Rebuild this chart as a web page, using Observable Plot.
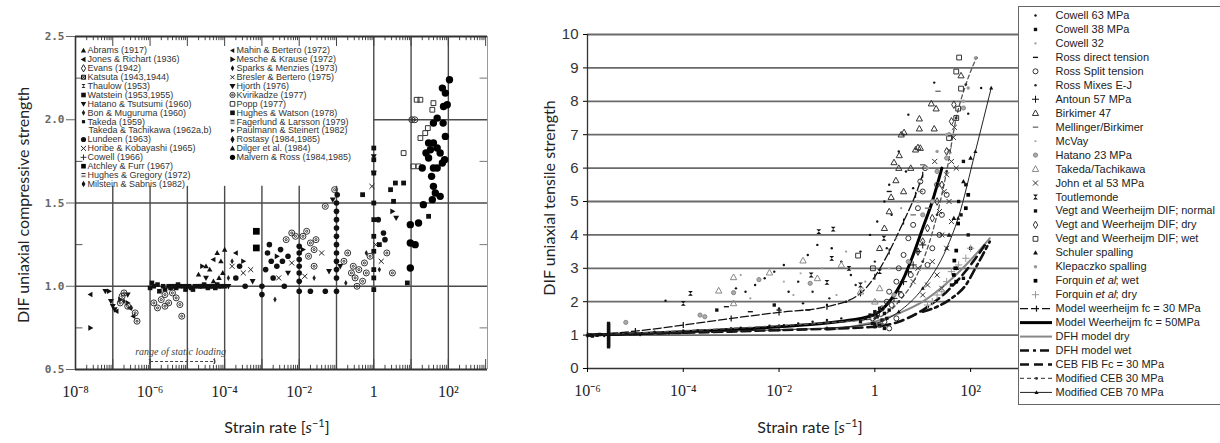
<!DOCTYPE html>
<html><head><meta charset="utf-8">
<script src="https://cdn.jsdelivr.net/npm/d3@7"></script>
<script src="https://cdn.jsdelivr.net/npm/@observablehq/plot@0.6"></script>
<style>
body{margin:0;background:#fff}
#wrap{position:relative;width:1220px;height:443px;overflow:hidden;background:#fff;font-family:Lato,"Open Sans",sans-serif}
#wrap svg{position:absolute}
.ylab{position:absolute;transform:translate(-50%,-50%) rotate(-90deg);white-space:nowrap;font-size:16px;color:#222}
.xlab{position:absolute;transform:translate(-50%,-50%);white-space:nowrap;font-size:16px;color:#222}
.xlab sup{font-size:11px;vertical-align:6px}
</style></head><body><div id="wrap"></div><script>
// ---------------- DATA (x = log10 strain rate, y = DIF) ----------------
// Left panel: compressive
const compTickValues = [1e-8, 1e-6, 1e-4, 1e-2, 1, 1e2];
const compTickLabels = ["10⁻⁸", "10⁻⁶", "10⁻⁴", "10⁻²", "1", "10²"];
const compYTicks = [0.5, 1.0, 1.5, 2.0, 2.5];
const compGridPartial = [1e-7, 1e-6, 1e-5, 1e-4, 1e-3, 1e-2, 1e-1];
const compGridFull = [1, 10, 100];

const compJones = [[-7.6,0.95],[-6.9,0.85],[-6.55,0.87],[-6.45,0.82],[-4.3,1.16],[-3.7,1.2]];
const compMesche = [[-7.6,0.75],[-7.1,0.97],[-6.8,0.92],[-6.6,0.9],[-4.6,1.12],[-3.5,1.15],[-2.6,1.18],[-1.9,1.22],[0.5,1.45]];
const compHjorth = [[-7.2,0.97],[-7.0,0.88],[-6.95,0.86],[-7.05,0.91],[-6.6,0.95],[-4.5,1.05],[-3.9,1.0],[-3.25,1.03],[-2.3,1.08],[-1.2,1.09],[-0.9,1.12],[0,1.78],[0.6,1.41],[0,1.68],[-1.1,1.52]];
const compKvirikadze = [[-6.8,0.9],[-6.75,0.94],[-6.6,0.88],[-6.4,0.84],[-6.35,0.79],[-6.7,0.96],[-5.9,0.9],[-5.8,0.87],[-5.7,0.92],[-5.6,0.88],[-5.5,0.9],[-5.3,0.93],[-5.2,0.89],[-5.15,0.82],[-5.6,0.95],[-5.4,0.96],[-2.35,1.28],[-2.2,1.32],[-2.1,1.3],[-1.9,1.3],[-1.8,1.33],[-1.7,1.26],[-1.6,1.22],[-1.75,1.18],[-1.6,1.12],[-1.55,1.28],[-1.05,1.58],[-1.3,1.48],[-0.8,1.15],[-0.7,1.2],[-0.6,1.08],[-0.5,1.05],[-0.4,1.1],[-0.3,1.03],[-0.2,1.08],[-0.55,1.12],[-0.45,1.0],[-0.25,1.14],[-0.1,1.18],[0.35,1.2],[0.5,1.08],[1.02,2.0],[1.1,2.0]];
const compLundeen = [[-3.0,1.0],[-3.0,0.95],[-2.9,1.1],[-2.85,1.2],[-2.8,1.25],[-2.75,1.15],[-2.7,1.05],[-2.6,1.12],[-2.5,1.22],[-2.45,1.15],[-2.4,1.0],[-2.3,1.18],[-2.0,0.97],[-2.0,1.03],[-2.0,1.08],[-2.0,1.12],[-2.0,1.16],[-2.0,1.2],[-2.0,1.24],[-1.7,0.97],[-1.3,0.97],[-1.0,0.97],[-1.0,1.05],[-1.0,1.1],[-1.0,1.15],[-1.0,1.2],[-1.0,1.25],[-1.0,1.3],[-1.0,1.35],[-1.0,1.4],[-1.0,1.45],[-1.0,1.5],[-0.98,1.55],[0.26,1.32],[0.3,1.28],[0.12,1.4],[-3.7,1.05],[-3.6,1.12],[-3.45,1.0]];
const compMalvernRoss = [[2.03,2.24],[1.84,2.19],[1.92,2.16],[1.97,2.09],[1.87,2.08],[1.7,2.01],[1.86,1.98],[1.6,1.98],[1.47,1.86],[1.6,1.86],[1.52,1.82],[1.7,1.83],[1.78,1.8],[1.47,1.77],[1.84,1.74],[1.7,1.71],[1.6,1.71],[1.3,1.71],[1.6,1.6],[1.65,1.56],[1.78,1.54],[1.57,1.52],[1.33,1.49],[1.2,1.38],[0.98,1.37],[0.98,1.26],[1.11,1.25],[0.98,1.11],[1.55,1.66],[1.4,1.8],[1.92,1.9],[1.9,1.76]];
const compPopp = [[1.15,2.12],[1.25,2.12],[1.6,2.1],[1.57,2.06],[1.38,1.92],[1.25,1.89],[0.8,1.8],[1.06,1.72],[1.45,1.95],[1.2,1.72]];
const compHughesWatson = [[0,1.83],[0,1.76],[0,1.68],[0,1.5],[0,1.4],[0,1.3],[0,1.21],[0,1.1],[0,1.05],[0,0.98],[0.58,1.62],[0.45,1.58],[0.53,1.51],[0.9,1.02],[0.8,1.62],[-0.3,1.55],[1.47,1.42],[0.15,1.25]];
const compAtchley = [[-3.15,1.33],[-3.15,1.23]];
const compWatstein = [[-6,0.99],[-5.9,1.0],[-5.8,1.01],[-5.6,0.98],[-5.5,1.0],[-5.4,1.0],[-5.3,0.99],[-5.2,1.0],[-5.1,1.0],[-5.0,1.0],[-4.9,0.99],[-4.8,1.0],[-4.7,1.0],[-4.6,1.0],[-4.5,1.0],[-4.4,1.0],[-4.3,1.0],[-4.2,1.01],[-4.1,1.0],[-4.0,1.0],[-5.95,1.02],[-5.75,0.97],[-5.65,1.0],[-5.45,0.99],[-5.35,1.0],[-5.25,1.01],[-5.05,0.98],[-4.95,1.0],[-4.85,0.98],[-4.65,1.0],[-4.55,1.01],[-4.45,0.99],[-4.35,1.0],[-4.25,0.99],[-4.15,1.0]];
const compDilger = [[-4.7,1.07],[-4.5,1.12],[-4.4,1.1],[-4.2,1.2],[-4.1,1.15],[-4.05,1.08],[-4.0,1.22],[-4.15,1.05],[-4.3,1.03]];
const compHoribe = [[-3.8,1.12],[-3.5,1.08],[-3.3,1.1],[-2.55,1.05],[-2.2,1.14],[-1.4,1.2],[-1.85,1.06],[0.05,1.25],[-0.05,1.6],[0.2,1.15]];
const compBon = [[-6.7,0.91],[-6.5,0.87],[-3.9,1.05],[-3.8,1.15],[-2.65,0.92],[-1.6,1.05],[-0.75,1.02],[-0.2,1.2],[0.15,1.1]];
const compStaticRange = [[-6, -4.27]];

const compLegendCol1 = ["Abrams (1917)","Jones & Richart (1936)","Evans (1942)","Katsuta (1943,1944)","Thaulow (1953)","Watstein (1953,1955)","Hatano & Tsutsumi (1960)","Bon & Muguruma (1960)","Takeda (1959)","Takeda & Tachikawa (1962a,b)","Lundeen (1963)","Horibe & Kobayashi (1965)","Cowell (1966)","Atchley & Furr (1967)","Hughes & Gregory (1972)","Milstein & Sabnis (1982)"];
const compLegendCol1Keys = ["abrams","jones","evans","katsuta","thaulow","watstein","hatano","bon","takeda",null,"lundeen","horibe","cowell","atchley","hughesGregory","milstein"];
const compLegendCol2 = ["Mahin & Bertero (1972)","Mesche & Krause (1972)","Sparks & Menzies (1973)","Bresler & Bertero (1975)","Hjorth (1976)","Kvirikadze (1977)","Popp (1977)","Hughes & Watson (1978)","Fagerlund & Larsson (1979)","Paulmann & Steinert (1982)","Rostasy (1984,1985)","Dilger et al. (1984)","Malvern & Ross (1984,1985)"];
const compLegendCol2Keys = ["mahin","mesche","sparks","bresler","hjorth","kvirikadze","popp","hughesWatson","fagerlund","paulmann","rostasy","dilger","malvern"];

// Right panel: tensile
const tensileTickValues = [1e-6, 1e-4, 1e-2, 1, 1e2];
const tensileTickLabels = ["10⁻⁶", "10⁻⁴", "10⁻²", "1", "10²"];
const tensileYTicks = [0,1,2,3,4,5,6,7,8,9,10];
const tensileGrid = [1,2,3,4,5,6,7,8,9,10];

const cowell63 = [[-5.9,1.0],[-5.8,0.98],[-5.7,1.02],[-5.65,0.97],[-5.2,1.05],[-4.9,1.0],[-4.6,1.1],[-4.3,1.05],[-4.0,1.12],[-3.7,1.15],[-3.4,1.1],[-3.1,1.18],[-2.8,1.22],[-2.5,1.2],[-2.2,1.28],[-1.9,1.3],[-1.6,1.35],[-1.3,1.4],[-1.0,1.45],[-0.7,1.5],[-4.37,2.03],[-2.9,2.4],[-2.7,2.3],[-2.5,2.5],[-2.3,2.7],[-2.1,2.9],[-1.9,3.1],[-1.8,2.3],[-1.6,2.6],[-1.4,3.4],[-1.2,3.7],[-0.9,3.6],[-0.7,3.2],[-0.5,2.8],[-0.3,3.5],[-0.1,4.0],[0.05,4.4],[0.2,5.0],[0.3,5.5],[0.5,6.5],[0.6,7.0],[0.7,7.6],[1.24,8.56],[2.22,8.4],[1.95,7.63],[-0.6,2.0],[-1.0,1.9],[-2.0,1.8],[-1.5,1.95],[0.65,5.9],[0.8,5.4],[0.35,4.6]];
const cowell38 = [[-5.56,0.65],[-5.56,0.7],[-5.56,0.75],[-5.56,0.8],[-5.56,0.85],[-5.56,0.9],[-5.56,0.95],[-5.56,1.0],[-5.56,1.05],[-5.56,1.1],[-5.56,1.15],[-5.56,1.2],[-5.56,1.25],[-5.56,1.3],[-5.56,1.35],[-5.95,1.0],[-5.9,0.97],[-5.8,1.0],[-5.75,1.02],[-0.2,1.5],[-0.1,1.6],[0,1.7],[0.05,1.55],[0.1,1.8],[0.15,1.45],[0.2,1.65],[-0.05,1.35],[0.1,1.3],[0.25,1.5],[0.3,1.75],[-0.3,1.4],[0.0,1.25],[0.2,1.2],[-2.1,1.9],[-3.3,1.75]];
const cowell32 = [[-2.8,2.8],[-2.6,2.1],[-1.7,2.2],[-1.1,3.0],[-0.8,2.2],[-0.6,3.5],[-0.2,2.6],[0.45,3.9],[0.55,4.8]];
const rossDirect = [[-3.1,1.85],[-2.6,1.7],[-2.0,1.75],[0.3,5.3],[-1.4,1.75]];
const rossSplit = [[0.05,1.6],[0.15,1.8],[0.25,2.0],[0.3,2.3],[0.45,2.6],[0.5,3.0],[0.6,3.4],[0.7,3.9],[0.8,4.3],[0.9,4.8],[1.0,5.3],[0.95,5.6],[1.05,6.0],[0.2,1.4],[0.1,1.3],[0.35,1.9],[-0.05,1.5],[0.55,2.2],[0.75,2.8],[1.1,3.1],[1.2,3.6],[1.35,4.0],[1.4,4.6],[1.5,5.2],[1.3,5.5],[0.3,1.2],[0.45,1.5]];
const rossMixes = [[-1.3,2.3],[-0.95,2.1],[-0.4,2.5],[0.0,3.2],[0.25,3.6]];
const antoun = [[0.6,2.6],[0.7,2.9],[0.8,3.1],[0.5,2.3],[0.9,3.5],[0.4,2.1],[1.0,3.7]];
const birkimer = [[0.34,5.13],[0.4,6.17],[0.51,6.38],[0.5,6.0],[0.44,5.63],[0.61,7.07],[0.55,7.0],[0.85,6.55],[0.9,6.62],[0.95,6.6],[0.93,7.48],[0.93,7.18],[1.24,7.18],[1.18,7.93],[1.28,7.78],[1.8,8.77],[0.3,4.7],[0.2,4.2],[0.6,5.3],[0.75,6.0],[0.1,3.6]];
const mellinger = [[1.32,8.3],[0.95,5.3],[1.1,4.8],[1.0,6.1],[0.8,4.6]];
const mcvay = [[-1.9,2.6],[-1.55,2.85],[-0.25,2.4],[0.3,3.0]];
const hatano = [[-5.2,1.38],[-3.65,1.6],[-3.55,1.55],[-2.95,2.27],[-2.42,2.66],[-1.35,2.55],[0.4,2.2],[0.7,3.2],[1.0,4.6],[1.2,5.0],[1.3,5.9],[1.5,6.3],[1.55,7.0],[1.85,7.8]];
const takeda = [[-3.26,2.33],[-2.95,2.73],[-2.95,1.95],[-2.2,2.87],[-1.5,3.23],[-1.2,2.7],[-0.7,3.1],[-0.3,2.3],[0.0,2.0],[0.1,2.4]];
const john = [[1.64,6.92],[1.55,6.53],[1.6,6.2],[1.5,5.8],[1.45,5.3],[1.55,5.0],[1.35,4.7],[1.6,4.4],[1.4,4.0],[1.5,3.6],[1.2,3.2],[1.3,2.8],[1.1,2.5],[1.66,7.22],[1.7,6.0],[0.9,3.0],[1.0,2.2],[1.4,2.4],[0.8,2.6],[1.25,6.2]];
const toutlemonde = [[-4.0,1.95],[-3.85,2.25],[-1.17,4.1],[-0.87,4.17],[-1.33,2.8],[-0.9,3.3],[-1.0,2.58],[-0.54,3.0],[0.19,3.9],[-0.3,2.5],[0.1,2.9]];
const vegtNormal = [[1.85,6.2],[1.9,5.5],[1.75,5.0],[1.8,4.6],[1.95,4.0],[1.72,3.0],[1.85,2.7],[2.0,3.6],[1.6,2.5]];
const vegtDry = [[1.0,3.8],[1.1,4.2],[1.2,4.5],[0.9,3.5],[1.3,5.0],[1.4,5.5],[1.5,6.5],[1.6,7.4],[1.65,7.9]];
const vegtWet = [[1.76,9.31],[1.7,8.89],[1.8,8.38],[1.74,7.78],[1.7,7.5],[-0.35,3.38],[-0.04,3.0],[1.55,6.9]];
const schuler = [[1.55,4.0],[1.65,4.5],[1.85,5.6],[2.0,6.3]];
const klepaczko = [[2.1,9.3],[1.95,8.4],[1.85,8.0],[1.5,7.0],[1.3,6.5],[1.1,6.0],[0.9,5.0]];
const forquinWet = [[1.74,4.34],[1.7,3.53],[1.66,3.23],[1.68,3.0],[1.65,2.8],[1.7,2.6],[1.95,5.2],[1.9,4.8]];
const forquinDry = [[1.4,2.3],[1.5,2.6],[1.6,2.9],[1.3,2.2],[1.75,3.1],[1.9,3.3],[2.0,3.6],[1.2,2.0],[1.1,1.9]];

const modelW30 = [[-6,1.0],[-5,1.12],[-4,1.3],[-3,1.5],[-2,1.68],[-1,1.85],[-0.3,2.25],[0,2.75],[0.3,3.5],[0.6,4.4],[0.85,5.2],[1.0,5.8]];
const modelW50 = [[-6,1.0],[-5,1.04],[-4,1.1],[-3,1.17],[-2,1.25],[-1,1.36],[-0.5,1.45],[0,1.62],[0.3,2.0],[0.6,2.7],[0.8,3.4],[1.0,4.2],[1.2,5.0],[1.4,6.0]];
const dfhDry = [[-1,1.15],[-0.5,1.25],[0,1.4],[0.5,1.65],[1.0,2.0],[1.5,2.55],[2.0,3.25],[2.4,3.9]];
const dfhWet = [[1.0,1.7],[1.3,1.85],[1.6,2.1],[1.9,2.5],[2.1,3.0],[2.4,3.8]];
const cebFib = [[-6,1.0],[-4,1.07],[-2,1.15],[0,1.25],[0.5,1.4],[1.0,1.75],[1.5,2.3],[2.0,3.1],[2.3,3.7]];
const modCeb30 = [[-6,1.0],[-5,1.06],[-4,1.13],[-3,1.2],[-2,1.28],[-1,1.37],[0,1.5],[0.5,2.0],[1.0,3.2],[1.3,4.6],[1.5,5.9],[1.7,7.5],[1.9,8.5],[2.12,9.3]];
const modCeb70 = [[-6,1.0],[-5,1.04],[-4,1.08],[-3,1.12],[-2,1.16],[-1,1.21],[0,1.35],[0.5,1.7],[1.0,2.4],[1.5,3.6],[1.74,4.5],[2.1,6.5],[2.43,8.4]];

// ---------------- SYMBOLS ----------------
function mk(fn){return {draw(ctx,size){fn(ctx, Math.sqrt(size/Math.PI));}};}
const SYM = {
  triUp: mk((c,r)=>{r*=1.25;c.moveTo(0,-r);c.lineTo(r*0.95,r*0.7);c.lineTo(-r*0.95,r*0.7);c.closePath();}),
  triDown: mk((c,r)=>{r*=1.25;c.moveTo(0,r);c.lineTo(r*0.95,-r*0.7);c.lineTo(-r*0.95,-r*0.7);c.closePath();}),
  triLeft: mk((c,r)=>{r*=1.25;c.moveTo(-r,0);c.lineTo(r*0.7,-r*0.95);c.lineTo(r*0.7,r*0.95);c.closePath();}),
  triRight: mk((c,r)=>{r*=1.25;c.moveTo(r,0);c.lineTo(-r*0.7,-r*0.95);c.lineTo(-r*0.7,r*0.95);c.closePath();}),
  hourglass: mk((c,r)=>{c.moveTo(-r,-r);c.lineTo(r,-r);c.lineTo(-r,r);c.lineTo(r,r);c.closePath();}),
  dash: mk((c,r)=>{c.moveTo(-r*1.5,-r*0.4);c.lineTo(r*1.5,-r*0.4);c.lineTo(r*1.5,r*0.4);c.lineTo(-r*1.5,r*0.4);c.closePath();}),
  vbar: mk((c,r)=>{c.moveTo(0,-r);c.lineTo(0,r);}),
  xbox: mk((c,r)=>{c.rect(-r,-r,2*r,2*r);c.moveTo(-r,-r);c.lineTo(r,r);c.moveTo(r,-r);c.lineTo(-r,r);}),
  circleDot: mk((c,r)=>{c.moveTo(r,0);c.arc(0,0,r,0,2*Math.PI);c.moveTo(r*0.35,0);c.arc(0,0,r*0.35,0,2*Math.PI);}),
  sqStripe: mk((c,r)=>{c.rect(-r,-r,2*r,2*r);c.moveTo(-r,-r*0.2);c.lineTo(r,-r*0.2);c.moveTo(-r,r*0.3);c.lineTo(r,r*0.3);})
};

const compStyles = {
  abrams:{symbol:SYM.triUp,fill:"#111",stroke:"none",r:2.2},
  jones:{symbol:SYM.triLeft,fill:"#111",stroke:"none",r:2.3},
  evans:{symbol:"diamond",fill:"none",stroke:"#222",r:2.2},
  katsuta:{symbol:SYM.xbox,fill:"none",stroke:"#111",r:2},
  thaulow:{symbol:SYM.hourglass,fill:"#222",stroke:"none",r:2},
  watstein:{symbol:"square",fill:"#111",stroke:"none",r:2.6},
  hatano:{symbol:SYM.triDown,fill:"#111",stroke:"none",r:2.3},
  bon:{symbol:"diamond",fill:"#222",stroke:"none",r:1.8},
  takeda:{symbol:"square",fill:"#111",stroke:"none",r:1.8},
  lundeen:{symbol:"circle",fill:"#111",stroke:"none",r:2.8},
  horibe:{symbol:"times",fill:"none",stroke:"#222",r:2.4},
  cowell:{symbol:"plus",fill:"none",stroke:"#333",r:2},
  atchley:{symbol:"square",fill:"#000",stroke:"none",r:3.8},
  hughesGregory:{symbol:SYM.sqStripe,fill:"#333",stroke:"#fff",r:2.6},
  milstein:{symbol:"diamond",fill:"#111",stroke:"none",r:2},
  mahin:{symbol:SYM.triLeft,fill:"#111",stroke:"none",r:2},
  mesche:{symbol:SYM.triRight,fill:"#111",stroke:"none",r:2.4},
  sparks:{symbol:"diamond",fill:"#111",stroke:"none",r:1.8},
  bresler:{symbol:"times",fill:"none",stroke:"#222",r:2},
  hjorth:{symbol:SYM.triDown,fill:"#111",stroke:"none",r:2.5},
  kvirikadze:{symbol:SYM.circleDot,fill:"none",stroke:"#333",r:3},
  popp:{symbol:"square",fill:"none",stroke:"#333",r:2.7},
  hughesWatson:{symbol:"square",fill:"#111",stroke:"none",r:2.7},
  fagerlund:{symbol:SYM.sqStripe,fill:"#222",stroke:"#ddd",r:2.3},
  paulmann:{symbol:SYM.triRight,fill:"#222",stroke:"none",r:1.8},
  rostasy:{symbol:"diamond",fill:"#111",stroke:"none",r:2.2},
  dilger:{symbol:SYM.triUp,fill:"#111",stroke:"none",r:2.3},
  malvern:{symbol:"circle",fill:"#000",stroke:"none",r:3.7}
};
const compSeries = [
  ["watstein", compWatstein],["jones", compJones],["mesche", compMesche],["hjorth", compHjorth],
  ["kvirikadze", compKvirikadze],["bon", compBon],["dilger", compDilger],["horibe", compHoribe],
  ["lundeen", compLundeen],["hughesWatson", compHughesWatson],["atchley", compAtchley],
  ["popp", compPopp],["malvern", compMalvernRoss]
];

const tensileSeries = [
  {label:"Cowell 63 MPa", data:cowell63, symbol:"circle", fill:"#111", stroke:"none", r:1.2},
  {label:"Cowell 38 MPa", data:cowell38, symbol:"square", fill:"#111", stroke:"none", r:1.9},
  {label:"Cowell 32", data:cowell32, symbol:"circle", fill:"#999", stroke:"none", r:1.1},
  {label:"Ross direct tension", data:rossDirect, symbol:SYM.dash, fill:"#111", stroke:"none", r:1.7},
  {label:"Ross Split tension", data:rossSplit, symbol:"circle", fill:"none", stroke:"#333", r:2.5},
  {label:"Ross Mixes E-J", data:rossMixes, symbol:"circle", fill:"#222", stroke:"none", r:1.2},
  {label:"Antoun 57 MPa", data:antoun, symbol:"plus", fill:"none", stroke:"#111", r:2.4},
  {label:"Birkimer 47", data:birkimer, symbol:SYM.triUp, fill:"none", stroke:"#333", r:2.6},
  {label:"Mellinger/Birkimer", data:mellinger, symbol:SYM.dash, fill:"#777", stroke:"none", r:1.8},
  {label:"McVay", data:mcvay, symbol:"circle", fill:"#aaa", stroke:"none", r:1.1},
  {label:"Hatano 23 MPa", data:hatano, symbol:"circle", fill:"#aaa", stroke:"#888", r:2.1},
  {label:"Takeda/Tachikawa", data:takeda, symbol:SYM.triUp, fill:"none", stroke:"#888", r:2.7},
  {label:"John et al 53 MPa", data:john, symbol:"times", fill:"none", stroke:"#333", r:2.4},
  {label:"Toutlemonde", data:toutlemonde, symbol:SYM.hourglass, fill:"#111", stroke:"none", r:2.4},
  {label:"Vegt and Weerheijm DIF; normal", data:vegtNormal, symbol:"square", fill:"#111", stroke:"none", r:1.9},
  {label:"Vegt and Weerheijm DIF; dry", data:vegtDry, symbol:"diamond", fill:"none", stroke:"#333", r:2.3},
  {label:"Vegt and Weerheijm DIF; wet", data:vegtWet, symbol:"square", fill:"none", stroke:"#333", r:2.7},
  {label:"Schuler spalling", data:schuler, symbol:SYM.triUp, fill:"#111", stroke:"none", r:2},
  {label:"Klepaczko spalling", data:klepaczko, symbol:"circle", fill:"#999", stroke:"none", r:1.7},
  {label:"Forquin et al; wet", data:forquinWet, symbol:"square", fill:"#000", stroke:"none", r:2.1},
  {label:"Forquin et al; dry", data:forquinDry, symbol:"plus", fill:"none", stroke:"#999", r:2.5}
];
const tensileModels = [
  {label:"Model weerheijm fc = 30 MPa", data:modelW30, stroke:"#111", width:1.3, dash:"8,3", marker:{symbol:SYM.vbar, fill:"none", stroke:"#111", r:3}},
  {label:"Model Weerheijm fc = 50MPa", data:modelW50, stroke:"#000", width:3},
  {label:"DFH model dry", data:dfhDry, stroke:"#888", width:2},
  {label:"DFH model wet", data:dfhWet, stroke:"#111", width:2.6, dash:"9,4,3,4"},
  {label:"CEB FIB Fc = 30 MPa", data:cebFib, stroke:"#111", width:2.6, dash:"9,5"},
  {label:"Modified CEB 30 MPa", data:modCeb30, stroke:"#555", width:1.3, dash:"4,3", marker:{symbol:"circle", fill:"#333", stroke:"none", r:1.4}},
  {label:"Modified CEB 70 MPa", data:modCeb70, stroke:"#222", width:1, marker:{symbol:SYM.triUp, fill:"#111", stroke:"none", r:1.7}}
];

// ---------------- DRAW ----------------
const X = d => 10 ** d[0], Y = d => d[1];
const wrap = document.getElementById("wrap");
const compTickMap = new Map(compTickValues.map((v,i)=>[v,compTickLabels[i]]));
const tensTickMap = new Map(tensileTickValues.map((v,i)=>[v,tensileTickLabels[i]]));
const xMaxL = 10 ** 3.05;
// minor log ticks for the frame of the left panel
const minorTicks = [];
for (let e = -8; e <= 3; e++) for (let k = 1; k <= 9; k++) { const v = k * 10 ** e; if (v <= xMaxL) minorTicks.push({v, major: k === 1}); }

const left = Plot.plot({
  width: 500, height: 443, marginLeft: 75, marginRight: 13, marginTop: 36, marginBottom: 74,
  x: {type: "log", domain: [1e-8, xMaxL], axis: null},
  y: {domain: [0.5, 2.5], axis: null},
  style: {background: "transparent", overflow: "visible"},
  marks: [
    Plot.ruleX(compGridPartial, {x: d => d, y1: 0.5, y2: 1.6, stroke: "#4a4a4a", strokeWidth: 1.4}),
    Plot.ruleX(compGridFull, {x: d => d, y1: 0.5, y2: 2.5, stroke: "#4a4a4a", strokeWidth: 1.4}),
    Plot.ruleY([1.0, 1.5], {y: d => d, x1: 1e-8, x2: xMaxL, stroke: "#4a4a4a", strokeWidth: 1.6}),
    Plot.ruleY([2.0], {y: d => d, x1: 1, x2: xMaxL, stroke: "#4a4a4a", strokeWidth: 1.6}),
    Plot.ruleX(minorTicks, {x: "v", y1: 2.5, y2: d => d.major ? 2.44 : 2.475, stroke: "#444", strokeWidth: 1}),
    Plot.ruleX(minorTicks, {x: "v", y1: 0.5, y2: d => d.major ? 0.56 : 0.525, stroke: "#444", strokeWidth: 1}),
    Plot.ruleY([0.75, 1.25, 1.75, 2.25], {y: d => d, x1: 1e-8, x2: 10 ** -7.8, stroke: "#555"}),
    Plot.ruleY([0.75, 1.25, 1.75, 2.25], {y: d => d, x1: 10 ** 2.85, x2: xMaxL, stroke: "#777"}),
    Plot.ruleY([2.5], {x1: 1e-8, x2: xMaxL, stroke: "#333", strokeWidth: 2.2}),
    Plot.ruleY([0.5], {x1: 1e-8, x2: xMaxL, stroke: "#333", strokeWidth: 2.2}),
    Plot.ruleX([1e-8], {y1: 0.5, y2: 2.5, stroke: "#333", strokeWidth: 1.6}),
    Plot.ruleX([xMaxL], {y1: 0.5, y2: 2.5, stroke: "#999", strokeWidth: 1}),
    Plot.axisX({ticks: compTickValues, tickFormat: d => compTickMap.get(d), tickSize: 0, tickPadding: 16, fontSize: 16, fontFamily: "Liberation Serif", fill: "#222", label: null}),
    Plot.axisY({ticks: compYTicks, tickFormat: d3.format(".1f"), tickSize: 9, tickPadding: 2, fontSize: 11, fontFamily: "DejaVu Sans Mono", fontWeight: "bold", fill: "#666", stroke: "#666", label: null}),
    // static loading range
    Plot.link(compStaticRange, {x1: d => 10 ** d[0], x2: d => 10 ** d[1], y1: 0.548, y2: 0.548, stroke: "#444", strokeDasharray: "3,2", markerStart: "arrow", markerEnd: "arrow", strokeWidth: 1}),
    Plot.ruleX(compStaticRange.flat(), {x: d => 10 ** d, y1: 0.53, y2: 0.565, stroke: "#444"}),
    Plot.text(["range of static loading"], {x: 10 ** -5.18, y: 0.605, text: d => d, fontSize: 10, fontStyle: "italic", fontFamily: "Liberation Serif", fill: "#444"}),
    ...compSeries.map(([k, data]) => Plot.dot(data, {x: X, y: Y, ...compStyles[k], strokeWidth: 1}))
  ]
});
left.style.left = "0px"; left.style.top = "0px";
wrap.appendChild(left);

// left legend (inside plot)
const legRowsL = compLegendCol1.map((t, i) => ({t, k: compLegendCol1Keys[i], col: 0, i}))
  .concat(compLegendCol2.map((t, i) => ({t, k: compLegendCol2Keys[i], col: 1, i})));
const legL = Plot.plot({
  width: 290, height: 160, margin: 0,
  x: {domain: [0, 290], range: [0, 290], axis: null},
  y: {domain: [0, 160], range: [0, 160], axis: null},
  style: {background: "transparent", overflow: "visible"},
  marks: [
    ...legRowsL.filter(d => d.k).map(d => Plot.dot([d], {x: d.col ? 157 : 8, y: 14 + 8.9 * d.i, ...compStyles[d.k], r: Math.min(compStyles[d.k].r, 2.6), strokeWidth: 1})),
    Plot.text(legRowsL, {x: d => d.col ? 161 : (d.k ? 12 : 13), y: d => 14 + 8.9 * d.i, text: "t", textAnchor: "start", fontSize: 9, fontFamily: "Liberation Sans", fill: "#333"})
  ]
});
legL.style.left = "75px"; legL.style.top = "36px";
wrap.appendChild(legL);

// right plot
const right = Plot.plot({
  width: 520, height: 443, marginLeft: 87, marginRight: 2, marginTop: 34, marginBottom: 75,
  x: {type: "log", domain: [1e-6, 1e3], axis: null},
  y: {domain: [0, 10], axis: null},
  style: {background: "transparent", overflow: "visible"},
  marks: [
    Plot.ruleY(tensileGrid, {y: d => d, stroke: "#6a6a6a", strokeWidth: 1.8}),
    Plot.ruleY([0], {stroke: "#333", strokeWidth: 1.3}),
    Plot.ruleX([1e-6], {stroke: "#333", strokeWidth: 1.3}),
    Plot.axisX({ticks: tensileTickValues, tickFormat: d => tensTickMap.get(d), tickSize: 4, tickPadding: 12, fontSize: 16, fontFamily: "Liberation Serif", fill: "#222", label: null}),
    Plot.axisY({ticks: tensileYTicks, tickSize: 4, tickPadding: 5, fontSize: 15, fontFamily: "Liberation Sans", fill: "#333", label: null}),
    ...tensileModels.map(m => Plot.line(m.data, {x: X, y: Y, stroke: m.stroke, strokeWidth: m.width, strokeDasharray: m.dash, curve: "monotone-x"})),
    ...tensileModels.filter(m => m.marker).map(m => Plot.dot(m.data, {x: X, y: Y, ...m.marker, strokeWidth: 1.2})),
    ...tensileSeries.map(s => Plot.dot(s.data, {x: X, y: Y, symbol: s.symbol, fill: s.fill, stroke: s.stroke, r: s.r, strokeWidth: 1}))
  ]
});
right.style.left = "500px"; right.style.top = "0px";
wrap.appendChild(right);

// right legend
const legRowsR = tensileSeries.map((s, i) => ({...s, i, kind: "dot"}))
  .concat(tensileModels.map((m, j) => ({...m, i: tensileSeries.length + j, kind: "line"})));
const rowY = i => 9 + i * 13.96;
const italicParts = new Map([["Forquin et al; wet", ["Forquin ", "et al", "; wet"]], ["Forquin et al; dry", ["Forquin ", "et al", "; dry"]]]);
const LF = 11;
const legR = Plot.plot({
  width: 215, height: 398, margin: 0,
  x: {domain: [0, 215], range: [0, 215], axis: null},
  y: {domain: [0, 398], range: [0, 398], axis: null},
  style: {background: "#fff", overflow: "visible"},
  marks: [
    Plot.frame({stroke: "#666", strokeWidth: 1}),
    ...legRowsR.filter(d => d.kind === "dot").map(d => Plot.dot([d], {x: 17, y: rowY(d.i), symbol: d.symbol, fill: d.fill, stroke: d.stroke, r: d.r, strokeWidth: 1})),
    ...legRowsR.filter(d => d.kind === "line").map(d => Plot.ruleY([d], {y: rowY(d.i), x1: 2, x2: 34, stroke: d.stroke, strokeWidth: d.width, strokeDasharray: d.dash})),
    ...legRowsR.filter(d => d.kind === "line" && d.marker).map(d => Plot.dot([d], {x: 18, y: rowY(d.i), ...d.marker, strokeWidth: 1.2})),
    Plot.text(legRowsR.filter(d => !italicParts.has(d.label)), {x: 37, y: d => rowY(d.i), text: "label", textAnchor: "start", fontSize: LF, fontFamily: "Liberation Sans", fill: "#222"}),
    ...legRowsR.filter(d => italicParts.has(d.label)).flatMap(d => {
      const p = italicParts.get(d.label);
      return [
        Plot.text([p[0]], {x: 37, y: rowY(d.i), text: t => t, textAnchor: "start", fontSize: LF, fontFamily: "Liberation Sans", fill: "#222"}),
        Plot.text([p[1]], {x: 77, y: rowY(d.i), text: t => t, textAnchor: "start", fontSize: LF, fontStyle: "italic", fontFamily: "Liberation Sans", fill: "#222"}),
        Plot.text([p[2]], {x: 97, y: rowY(d.i), text: t => t, textAnchor: "start", fontSize: LF, fontFamily: "Liberation Sans", fill: "#222"})
      ];
    })
  ]
});
legR.style.left = "1018px"; legR.style.top = "6px";
wrap.appendChild(legR);

// axis titles
function addLabel(cls, html, x, y) { const d = document.createElement("div"); d.className = cls; d.innerHTML = html; d.style.left = x + "px"; d.style.top = y + "px"; wrap.appendChild(d); }
addLabel("ylab", "DIF uniaxial compressive strength", 22, 205);
addLabel("xlab", "Strain rate [<i>s</i><sup>−1</sup>]", 277, 426);
addLabel("ylab", "DIF uniaxial tensile strength", 548, 198);
addLabel("xlab", "Strain rate [<i>s</i><sup>−1</sup>]", 810, 426);
</script></body></html>
